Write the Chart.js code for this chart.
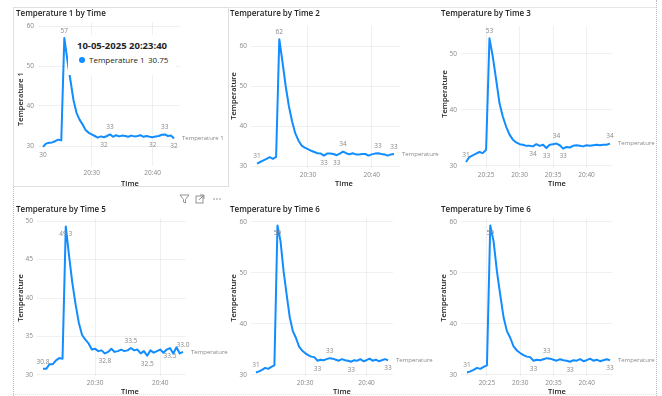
<!DOCTYPE html>
<html>
<head>
<meta charset="utf-8">
<script src="https://cdn.jsdelivr.net/npm/chart.js@4.4.1/dist/chart.umd.min.js"></script>
<style>
  body { margin: 0; width: 662px; height: 396px; background: #fff; position: relative; overflow: hidden;
         font-family: "Segoe UI", "Open Sans", sans-serif; }
  canvas { position: absolute; }
  .title { position: absolute; font-size: 8px; font-weight: 600; color: #252423; line-height: 12px; white-space: nowrap; }
  .axt { position: absolute; font-size: 7.5px; font-weight: 600; color: #252423; white-space: nowrap;
         transform: translate(-50%, -50%); line-height: 10px; }
  .axt.rot { transform: translate(-50%, -50%) rotate(-90deg); }
  .frame { position: absolute; }
  #tip { position: absolute; left: 68px; top: 35px; width: 108px; height: 40px; background: #fff; }
  #tip .d { position: absolute; left: 9px; top: 4px; font-size: 9.5px; font-weight: 700; color: #252423; white-space: nowrap; }
  #tip .dot { position: absolute; left: 11px; top: 22px; width: 6px; height: 6px; border-radius: 50%; background: #118DFF; }
  #tip .s { position: absolute; left: 21px; top: 19px; font-size: 8px; color: #252423; white-space: nowrap; }
  #tip .v { position: absolute; left: 80px; top: 19px; font-size: 8px; color: #252423; white-space: nowrap; }
</style>
</head>
<body>
<!-- report canvas edges -->
<div class="frame" style="left:13px;top:7px;width:643px;height:0;border-top:1px solid #e6e6e6"></div>
<div class="frame" style="left:13px;top:7px;width:0;height:389px;border-left:1px dotted #bdbdbd"></div>
<div class="frame" style="left:656px;top:0;width:0;height:396px;border-left:1px dotted #bdbdbd"></div>
<div class="frame" style="left:13px;top:394px;width:643px;height:0;border-top:1px dotted #e6e6e6"></div>
<!-- focused visual border -->
<div class="frame" style="left:13px;top:7px;width:214px;height:178px;border:1px solid #e1dfdd"></div>

<canvas id="c1" width="212" height="182" style="left:14px;top:8px"></canvas>
<canvas id="c2" width="213" height="178" style="left:229px;top:12px"></canvas>
<canvas id="c3" width="214" height="178" style="left:441px;top:12px"></canvas>
<canvas id="c4" width="216" height="192" style="left:14px;top:204px"></canvas>
<canvas id="c5" width="213" height="192" style="left:229px;top:204px"></canvas>
<canvas id="c6" width="214" height="192" style="left:441px;top:204px"></canvas>

<div class="title" style="left:16px;top:7px">Temperature 1 by Time</div>
<div class="title" style="left:230px;top:7px">Temperature by Time 2</div>
<div class="title" style="left:441px;top:7px">Temperature by Time 3</div>
<div class="title" style="left:16px;top:203px">Temperature by Time 5</div>
<div class="title" style="left:230px;top:203px">Temperature by Time 6</div>
<div class="title" style="left:441px;top:203px">Temperature by Time 6</div>

<div class="axt rot" style="left:20px;top:99px">Temperature 1</div>
<div class="axt rot" style="left:233px;top:96px">Temperature</div>
<div class="axt rot" style="left:444px;top:94px">Temperature</div>
<div class="axt rot" style="left:20px;top:298px">Temperature</div>
<div class="axt rot" style="left:233px;top:298px">Temperature</div>
<div class="axt rot" style="left:443px;top:298px">Temperature</div>

<div class="axt" style="left:130px;top:183px">Time</div>
<div class="axt" style="left:344px;top:183px">Time</div>
<div class="axt" style="left:557px;top:183px">Time</div>
<div class="axt" style="left:130px;top:391px">Time</div>
<div class="axt" style="left:342px;top:391px">Time</div>
<div class="axt" style="left:557px;top:391px">Time</div>

<div id="tip">
  <div class="d">10-05-2025 20:23:40</div>
  <div class="dot"></div>
  <div class="s">Temperature 1</div>
  <div class="v">30.75</div>
</div>

<!-- visual header icons -->
<svg style="position:absolute;left:179px;top:193px" width="48" height="12" viewBox="0 0 48 12">
  <path d="M1 2 L10 2 L6.5 6.5 L6.5 10 L4.5 9 L4.5 6.5 Z" fill="none" stroke="#8a8886" stroke-width="0.9"/>
  <rect x="17" y="3" width="7" height="7" fill="none" stroke="#8a8886" stroke-width="0.9"/>
  <path d="M21 2 L25 2 L25 6 M20 7 L25 2" fill="none" stroke="#8a8886" stroke-width="0.9"/>
  <circle cx="35" cy="6" r="0.8" fill="#8a8886"/>
  <circle cx="38" cy="6" r="0.8" fill="#8a8886"/>
  <circle cx="41" cy="6" r="0.8" fill="#8a8886"/>
</svg>

<script>
// Time in minutes after 20:00
const times = [22.0, 22.5, 23.0, 23.5, 24.0, 24.5, 25.0, 25.5, 26.0, 26.5, 27.0, 27.5, 28.0, 28.5, 29.0, 29.5,
               30.0, 30.5, 31.0, 31.5, 32.0, 32.5, 33.0, 33.5, 34.0, 34.5, 35.0, 35.5, 36.0, 36.5, 37.0, 37.5,
               38.0, 38.5, 39.0, 39.5, 40.0, 40.5, 41.0, 41.5, 42.0, 42.5, 43.0, 43.5];

const temp1 = [29.8, 30.6, 30.8, 30.9, 31.2, 31.6, 31.4, 57.0, 51.5, 46.5, 41.5, 38.3, 36.6, 35.4, 34.0, 33.3,
               32.9, 32.5, 32.1, 32.4, 32.2, 32.5, 32.9, 32.3, 32.7, 32.4, 32.6, 32.5, 32.3, 32.6, 32.4, 32.5,
               32.7, 32.3, 32.5, 32.3, 32.2, 32.4, 32.5, 32.8, 32.9, 32.5, 32.6, 31.9];
const temp2 = [30.6, 31.0, 31.4, 31.8, 32.2, 31.8, 32.3, 61.7, 56.0, 50.0, 45.0, 41.2, 38.2, 36.4, 35.1, 34.6,
               34.2, 33.8, 33.5, 33.2, 33.1, 32.6, 33.1, 33.1, 33.0, 32.7, 33.1, 33.6, 33.2, 32.9, 33.2, 32.9,
               32.9, 33.0, 33.0, 32.6, 32.9, 33.1, 33.2, 33.0, 32.9, 32.6, 32.9, 33.0];
const temp3 = [30.7, 31.6, 31.9, 32.2, 32.5, 32.3, 32.9, 52.8, 49.5, 45.4, 41.2, 38.8, 37.0, 35.6, 34.7, 34.2,
               33.9, 33.8, 33.6, 33.6, 33.5, 33.9, 33.6, 33.8, 33.2, 33.8, 33.9, 34.0, 33.7, 33.1, 33.4, 33.3,
               33.6, 33.7, 33.6, 33.5, 33.7, 33.6, 33.7, 33.8, 33.7, 33.8, 33.8, 34.0];
const temp5 = [30.8, 30.8, 31.4, 31.4, 31.9, 32.2, 32.1, 49.3, 45.5, 42.0, 39.2, 36.8, 35.2, 34.6, 34.1, 33.3,
               33.4, 33.1, 33.2, 32.8, 33.0, 33.4, 33.0, 33.1, 33.3, 33.1, 33.2, 33.5, 33.2, 33.3, 32.8, 33.1,
               32.5, 33.2, 32.9, 33.1, 33.3, 32.9, 33.3, 33.5, 32.8, 33.6, 32.8, 33.0];
const temp6 = [30.5, 30.7, 31.0, 31.4, 31.2, 31.6, 31.9, 59.3, 56.2, 50.3, 45.7, 41.3, 38.6, 37.3, 35.6, 34.8,
               34.3, 33.9, 33.6, 33.5, 32.8, 33.0, 32.9, 33.1, 33.3, 33.2, 33.0, 32.8, 33.1, 32.9, 32.8, 32.6,
               32.9, 32.8, 33.1, 32.7, 32.9, 33.2, 32.8, 33.0, 32.7, 32.9, 33.1, 32.9];

// Tick values
const xTicksA = [30, 40];
const xTicksB = [25, 30, 35, 40];
const yTicks1 = [30, 40, 50, 60];
const yTicks3 = [30, 40, 50];
const yTicks5 = [30, 35, 40, 45, 50];

// Which points carry a data label
const labelIdx1 = [7, 0, 22, 20, 36, 40, 43];
const labelIdx2 = [0, 7, 21, 25, 27, 38, 43];
const labelIdx3 = [0, 7, 20, 24, 27, 29, 43];
const labelIdx5 = [0, 7, 19, 27, 32, 39, 43];
const labelIdx6 = [0, 7, 20, 24, 31, 43];

const BLUE = '#118DFF';
const GREY = '#8a8886';
const FONT = '"Segoe UI", "Open Sans", sans-serif';

// data labels + series name at line end (Power BI style)
const pointLabels = {
  id: 'pointLabels',
  afterDatasetsDraw(chart, args, opts) {
    const meta = chart.getDatasetMeta(0);
    const vals = chart.data.datasets[0].data;
    const ctx = chart.ctx;
    ctx.save();
    ctx.font = '6.5px ' + FONT;
    ctx.fillStyle = GREY;
    ctx.textAlign = 'center';
    ctx.textBaseline = 'middle';
    opts.idx.forEach((i, k) => {
      const p = meta.data[i];
      ctx.fillText(vals[i].y.toFixed(opts.decimals), p.x, p.y + (opts.above[k] ? -7 : 8));
    });
    const last = meta.data[meta.data.length - 1];
    ctx.font = '6px ' + FONT;
    ctx.textAlign = 'left';
    ctx.fillText(opts.series, last.x + 8, last.y);
    ctx.restore();
  }
};

function makeChart(id, p) {
  new Chart(document.getElementById(id), {
    type: 'line',
    data: {
      datasets: [{
        data: times.map((t, i) => ({ x: t, y: p.values[i] })),
        borderColor: BLUE,
        borderWidth: 2,
        pointRadius: 0,
        tension: 0,
        borderJoinStyle: 'round'
      }]
    },
    options: {
      responsive: false,
      animation: false,
      events: [],
      layout: { padding: { top: p.padTop, right: p.padRight, left: 0, bottom: 0 } },
      plugins: {
        legend: { display: false },
        tooltip: { enabled: false },
        pointLabels: { idx: p.labelIdx, above: p.above, decimals: p.decimals, series: p.series }
      },
      scales: {
        x: {
          type: 'linear',
          min: p.xMin, max: p.xMax,
          afterBuildTicks: s => { s.ticks = p.xTicks.map(v => ({ value: v })); },
          afterFit: s => { s.height = p.xAxisH; },
          grid: { color: 'rgba(0,0,0,0.06)', drawTicks: false },
          border: { display: false },
          ticks: { padding: 3, color: GREY, font: { family: FONT, size: 6.5 }, maxRotation: 0,
                   callback: v => '20:' + v }
        },
        y: {
          min: p.yMin, max: p.yMax,
          afterBuildTicks: s => { s.ticks = p.yTicks.map(v => ({ value: v })); },
          afterFit: s => { s.width = p.yAxisW; },
          grid: { color: 'rgba(0,0,0,0.06)', drawTicks: false },
          border: { display: false },
          ticks: { padding: 4, color: GREY, font: { family: FONT, size: 6.5 } }
        }
      }
    },
    plugins: [pointLabels]
  });
}

makeChart('c1', { values: temp1, xMin: 21.18, xMax: 44.49, yMin: 25, yMax: 61, xTicks: xTicksA, yTicks: yTicks1,
  padTop: 14, padRight: 46, yAxisW: 24, xAxisH: 24, labelIdx: labelIdx1, above: [1, 0, 1, 0, 0, 1, 0],
  decimals: 0, series: 'Temperature 1' });
makeChart('c2', { values: temp2, xMin: 21.06, xMax: 44.44, yMin: 29.5, yMax: 65, xTicks: xTicksA, yTicks: yTicks1,
  padTop: 14, padRight: 42, yAxisW: 22, xAxisH: 22, labelIdx: labelIdx2, above: [1, 1, 0, 0, 1, 1, 1],
  decimals: 0, series: 'Temperature' });
makeChart('c3', { values: temp3, xMin: 21.25, xMax: 43.8, yMin: 29.64, yMax: 55, xTicks: xTicksB, yTicks: yTicks3,
  padTop: 14, padRight: 43, yAxisW: 20, xAxisH: 22, labelIdx: labelIdx3, above: [1, 1, 0, 0, 1, 0, 1],
  decimals: 0, series: 'Temperature' });
makeChart('c4', { values: temp5, xMin: 21.08, xMax: 43.96, yMin: 29.87, yMax: 50.39, xTicks: xTicksA, yTicks: yTicks5,
  padTop: 14, padRight: 44, yAxisW: 23, xAxisH: 20, labelIdx: labelIdx5, above: [1, 0, 0, 1, 0, 0, 1],
  decimals: 1, series: 'Temperature' });
makeChart('c5', { values: temp6, xMin: 21.19, xMax: 44.31, yMin: 29.8, yMax: 60.78, xTicks: xTicksA, yTicks: yTicks1,
  padTop: 14, padRight: 49, yAxisW: 22, xAxisH: 20, labelIdx: labelIdx6, above: [1, 0, 0, 1, 0, 0],
  decimals: 0, series: 'Temperature' });
makeChart('c6', { values: temp6, xMin: 21.1, xMax: 43.8, yMin: 29.8, yMax: 60.78, xTicks: xTicksB, yTicks: yTicks1,
  padTop: 14, padRight: 43, yAxisW: 20, xAxisH: 20, labelIdx: labelIdx6, above: [1, 0, 0, 1, 0, 0],
  decimals: 0, series: 'Temperature' });
</script>
</body>
</html>
